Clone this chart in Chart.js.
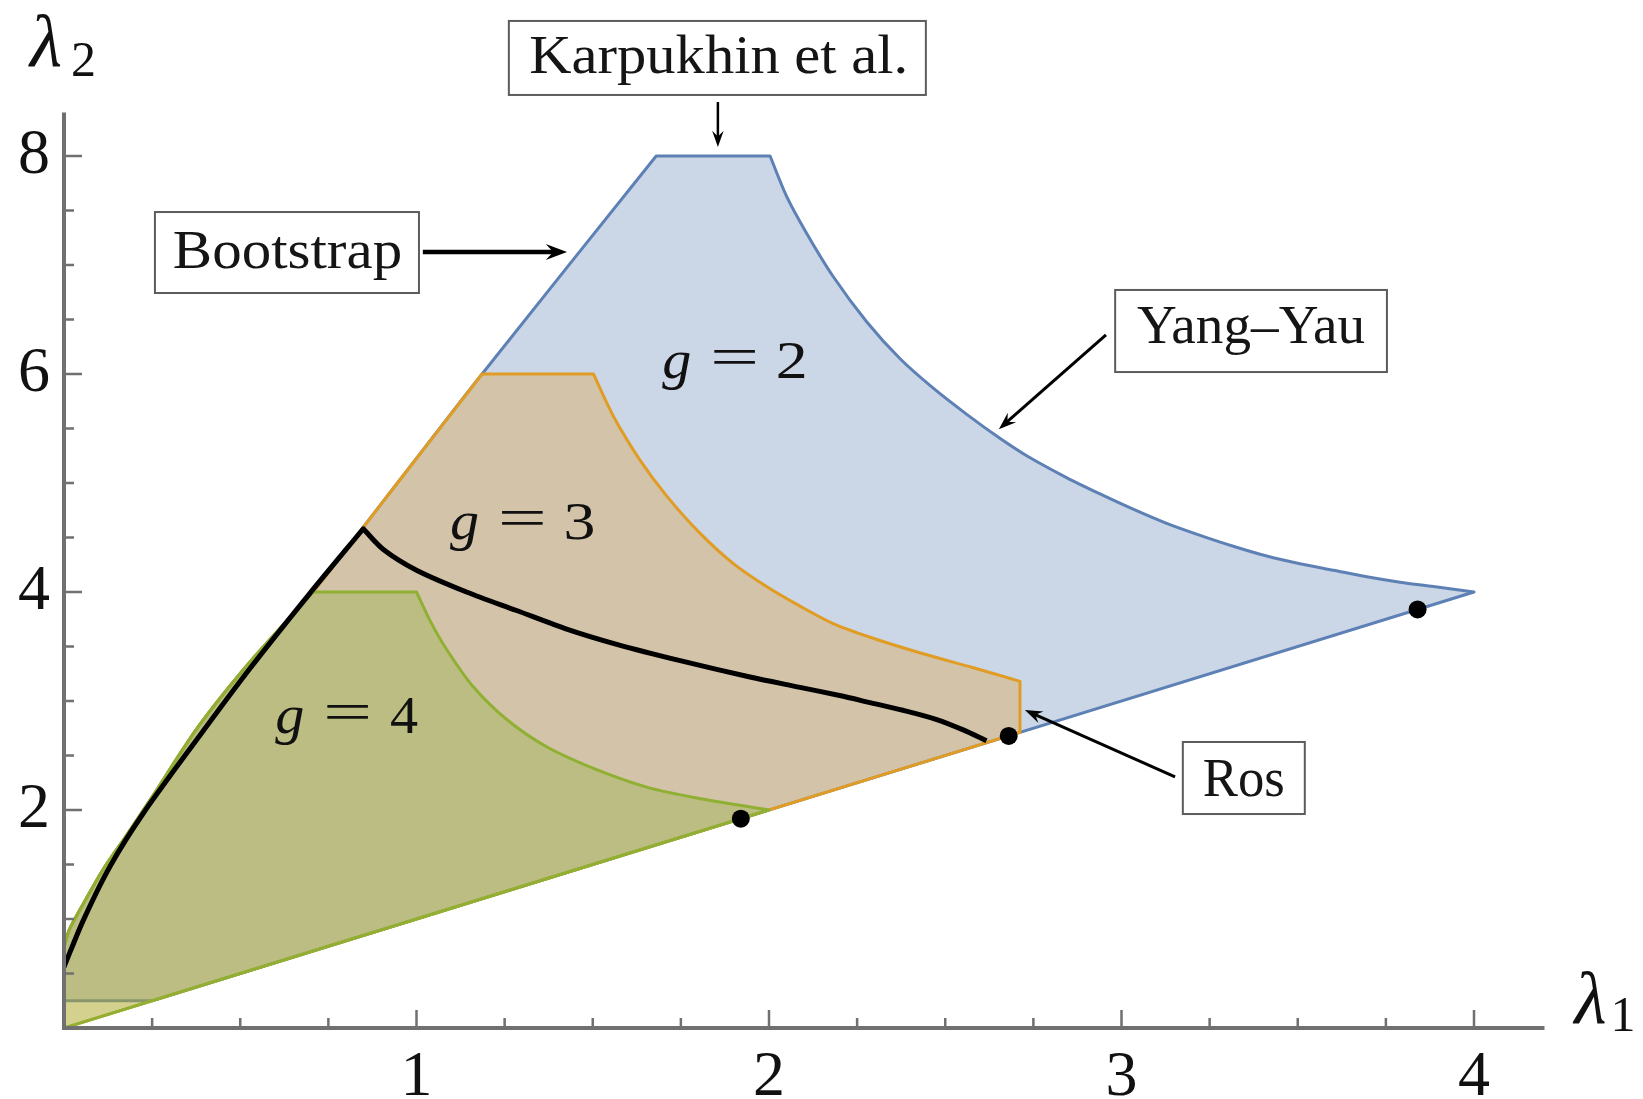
<!DOCTYPE html>
<html>
<head>
<meta charset="utf-8">
<script src="https://cdn.jsdelivr.net/npm/chart.js@4.4.1/dist/chart.umd.min.js"></script>
<style>
  html, body { margin: 0; padding: 0; background: #fff; }
  canvas { display: block; }
</style>
</head>
<body>
<canvas id="spectrumChart" width="1643" height="1099"></canvas>
<script>
// upper-left edge shared by every genus, from the λ2 axis up to the g = 2 plateau
const leftEdge = [
  [0, 0.74], [0.015, 0.9], [0.055, 1.14], [0.11, 1.45], [0.178, 1.77], [0.244, 2.09],
  [0.38, 2.76], [0.528, 3.36], [0.706, 4.0], [0.85, 4.6], [0.953, 5.03], [1.186, 6.0], [1.68, 8.0]
];
// right-hand boundaries (g = 2 is the Yang–Yau curve)
const upperG2 = [
  [2.003, 8.0], [2.05, 7.63], [2.107, 7.29], [2.183, 6.89], [2.277, 6.48], [2.372, 6.14],
  [2.466, 5.87], [2.561, 5.63], [2.655, 5.41], [2.731, 5.25], [2.844, 5.05], [2.939, 4.9],
  [3.033, 4.76], [3.128, 4.63], [3.223, 4.52], [3.317, 4.42], [3.412, 4.33], [3.506, 4.26],
  [3.601, 4.2], [3.696, 4.14], [3.79, 4.09], [3.885, 4.05], [4.0, 4.0]
];
const upperG3 = [
  [1.502, 6.0], [1.559, 5.61], [1.634, 5.21], [1.71, 4.88], [1.804, 4.54], [1.899, 4.26],
  [1.993, 4.05], [2.088, 3.87], [2.182, 3.71], [2.287, 3.585], [2.43, 3.44], [2.58, 3.305], [2.712, 3.18]
];
const upperG4 = [
  [1.0, 4.0], [1.038, 3.74], [1.086, 3.47], [1.161, 3.13], [1.256, 2.83], [1.369, 2.58],
  [1.511, 2.37], [1.653, 2.21], [1.795, 2.11], [2.0, 2.0]
];
// where each region meets the diagonal λ2 = λ1
const diagonalEnd = { g2: 4.0, g3: 2.712, g4: 2.0 };
const g2Floor = 0.25;
const plateau = { g2: 8, g3: 6, g4: 4 };

// bootstrap curve, with its kink at the top
const bootstrapRise = [
  [0, 0.56], [0.055, 0.99], [0.13, 1.48], [0.225, 1.97], [0.38, 2.66], [0.528, 3.3],
  [0.698, 3.99], [0.849, 4.58]
];
const bootstrapFall = [
  [0.849, 4.58], [0.906, 4.39], [1.0, 4.2], [1.142, 4.0], [1.284, 3.83], [1.426, 3.66],
  [1.568, 3.52], [1.748, 3.37], [1.946, 3.22], [2.088, 3.125], [2.2, 3.05], [2.287, 2.985],
  [2.38, 2.915], [2.476, 2.83], [2.551, 2.735], [2.617, 2.635]
];
const knownPoints = [[1.92, 1.92], [2.68, 2.68], [3.84, 3.84]];

const xTicks = [0.25, 0.5, 0.75, 1, 1.25, 1.5, 1.75, 2, 2.25, 2.5, 2.75, 3, 3.25, 3.5, 3.75, 4];
const yTicks = [0.5, 1, 1.5, 2, 2.5, 3, 3.5, 4, 4.5, 5, 5.5, 6, 6.5, 7, 7.5, 8];
const xTickLabels = [1, 2, 3, 4];
const yTickLabels = [2, 4, 6, 8];

const gLabels = [
  { digit: '2', x: 1.697, y: 5.963 },
  { digit: '3', x: 1.095, y: 4.486 },
  { digit: '4', x: 0.599, y: 2.706 }
];

const callouts = [
  { text: 'Karpukhin et al.', box: [1.262, 9.239, 2.445, 8.56], textWidth: 374, lift: 15,
    from: [1.855, 8.495], to: [1.855, 8.083], lw: 2.5 },
  { text: 'Bootstrap', box: [0.258, 7.486, 1.007, 6.743], textWidth: 226, lift: 15.5,
    from: [1.018, 7.119], to: [1.427, 7.119], lw: 4.5 },
  { text: 'Yang\u2013Yau', box: [2.982, 6.771, 3.753, 6.018], textWidth: 228, lift: 12,
    from: [2.956, 6.358], to: [2.652, 5.494], lw: 3 },
  { text: 'Ros', box: [3.174, 2.624, 3.52, 1.963], textWidth: 80, lift: 18,
    from: [3.152, 2.303], to: [2.726, 2.917], lw: 3 }
];

const BLUE = [94, 129, 181], ORANGE = [225, 156, 36], GREEN = [143, 176, 50];
const SERIF = '"Liberation Serif", "DejaVu Serif", serif';

const toXY = pts => pts.map(([x, y]) => ({ x, y }));
const rgb = (c, a) => a === undefined ? `rgb(${c})` : `rgba(${c},${a})`;
// a doubled point keeps the spline from rounding a corner
const corner = p => [p, p];
const inner = pts => pts.slice(1, -1);
const edgeBelow = lim => leftEdge.filter(p => p[1] <= lim).reverse();

function buildRegion(bottom, rightEdge, plateauY) {
  const left = edgeBelow(plateauY);
  const right = rightEdge.slice().reverse();
  return [
    ...bottom.flatMap(corner),
    ...corner(right[0]), ...inner(right), ...corner(right[right.length - 1]),
    ...corner(left[0]), ...inner(left), ...corner(left[left.length - 1]),
    ...corner(bottom[0])
  ];
}

const regionG2 = buildRegion([[0, g2Floor], [g2Floor, g2Floor]], upperG2, plateau.g2);
const regionG3 = buildRegion([[0, 0], [diagonalEnd.g3, diagonalEnd.g3]], upperG3, plateau.g3);
const regionG4 = buildRegion([[0, 0]], upperG4, plateau.g4);
const bootstrapCurve = [...bootstrapRise, ...bootstrapFall];

const region = (label, pts, c, order) => ({
  label, data: toXY(pts), showLine: true, fill: 'shape',
  backgroundColor: rgb(c, 0.32), borderColor: rgb(c), borderWidth: 3,
  borderJoinStyle: 'round', pointRadius: 0, tension: 0.3, order
});

function inkText(ctx, str, font, left, baseline, width) {
  ctx.font = font;
  ctx.textAlign = 'left';
  ctx.textBaseline = 'alphabetic';
  const m = ctx.measureText(str);
  const ink = m.actualBoundingBoxLeft + m.actualBoundingBoxRight;
  const sx = width ? width / ink : 1;
  ctx.save();
  ctx.translate(left, baseline);
  ctx.scale(sx, 1);
  ctx.fillText(str, m.actualBoundingBoxLeft, 0);
  ctx.restore();
}

function arrow(ctx, x1, y1, x2, y2, lw) {
  const a = Math.atan2(y2 - y1, x2 - x1);
  const len = 10 + lw * 2.5, half = 3 + lw * 1.1;
  ctx.lineWidth = lw;
  ctx.beginPath();
  ctx.moveTo(x1, y1);
  ctx.lineTo(x2 - Math.cos(a) * len * 0.6, y2 - Math.sin(a) * len * 0.6);
  ctx.stroke();
  ctx.save();
  ctx.translate(x2, y2);
  ctx.rotate(a);
  ctx.beginPath();
  ctx.moveTo(0, 0);
  ctx.lineTo(-len, -half);
  ctx.lineTo(-len * 0.65, 0);
  ctx.lineTo(-len, half);
  ctx.closePath();
  ctx.fill();
  ctx.restore();
}

const axesPlugin = {
  id: 'frameAxes',
  afterDatasetsDraw(chart) {
    const { ctx, scales: { x, y } } = chart;
    const x0 = x.getPixelForValue(0), y0 = y.getPixelForValue(0);
    ctx.save();
    ctx.strokeStyle = '#707070';
    ctx.lineWidth = 4;
    ctx.beginPath();
    ctx.moveTo(x0, y.getPixelForValue(y.max));
    ctx.lineTo(x0, y0);
    ctx.lineTo(x.getPixelForValue(x.max), y0);
    ctx.stroke();

    ctx.lineWidth = 2.5;
    ctx.beginPath();
    xTicks.forEach(v => {
      const px = x.getPixelForValue(v);
      const len = xTickLabels.includes(v) ? 18 : 10;
      ctx.moveTo(px, y0);
      ctx.lineTo(px, y0 - len);
    });
    yTicks.forEach(v => {
      const py = y.getPixelForValue(v);
      const len = yTickLabels.includes(v) ? 18 : 10;
      ctx.moveTo(x0, py);
      ctx.lineTo(x0 + len, py);
    });
    ctx.stroke();

    ctx.fillStyle = '#111';
    ctx.font = `64px ${SERIF}`;
    ctx.textBaseline = 'alphabetic';
    ctx.textAlign = 'center';
    xTickLabels.forEach(v => ctx.fillText(String(v), x.getPixelForValue(v), y0 + 67));
    ctx.textAlign = 'right';
    yTickLabels.forEach(v => ctx.fillText(String(v), x0 - 14, y.getPixelForValue(v) + 17));

    // axis names
    ctx.textAlign = 'left';
    ctx.font = `italic 74px ${SERIF}`;
    ctx.fillText('\u03bb', x0 - 34, y.getPixelForValue(y.max) - 46);
    ctx.fillText('\u03bb', x.getPixelForValue(x.max) + 30, y0 - 5);
    ctx.font = `50px ${SERIF}`;
    ctx.fillText('2', x0 + 7, y.getPixelForValue(y.max) - 36);
    ctx.fillText('1', x.getPixelForValue(x.max) + 66, y0 + 3);
    ctx.restore();
  }
};

const notesPlugin = {
  id: 'notes',
  afterDatasetsDraw(chart) {
    const { ctx, scales: { x, y } } = chart;
    ctx.save();
    ctx.fillStyle = '#111';
    gLabels.forEach(l => {
      const left = x.getPixelForValue(l.x), base = y.getPixelForValue(l.y);
      inkText(ctx, 'g', `italic 54px ${SERIF}`, left, base, 28);
      inkText(ctx, '=', `54px ${SERIF}`, left + 51, base - 3, 42);
      inkText(ctx, l.digit, `52px ${SERIF}`, left + 116, base, 27);
    });

    callouts.forEach(c => {
      const bx1 = x.getPixelForValue(c.box[0]), by1 = y.getPixelForValue(c.box[1]);
      const bx2 = x.getPixelForValue(c.box[2]), by2 = y.getPixelForValue(c.box[3]);
      ctx.fillStyle = '#fff';
      ctx.fillRect(bx1, by1, bx2 - bx1, by2 - by1);
      ctx.strokeStyle = '#5c5c5c';
      ctx.lineWidth = 2;
      ctx.strokeRect(bx1, by1, bx2 - bx1, by2 - by1);
      ctx.fillStyle = '#151515';
      const cx = (bx1 + bx2) / 2, cy = (by1 + by2) / 2;
      inkText(ctx, c.text, `54px ${SERIF}`, cx - c.textWidth / 2, cy + c.lift, c.textWidth);

      ctx.strokeStyle = '#000';
      ctx.fillStyle = '#000';
      arrow(ctx, x.getPixelForValue(c.from[0]), y.getPixelForValue(c.from[1]),
        x.getPixelForValue(c.to[0]), y.getPixelForValue(c.to[1]), c.lw);
    });
    ctx.restore();
  }
};

new Chart(document.getElementById('spectrumChart'), {
  type: 'scatter',
  data: {
    datasets: [
      region('g = 2', regionG2, BLUE, 5),
      region('g = 3', regionG3, ORANGE, 4),
      region('g = 4', regionG4, GREEN, 3),
      {
        label: 'bootstrap', data: toXY(bootstrapCurve), showLine: true, fill: false,
        borderColor: '#000', borderWidth: 5, borderJoinStyle: 'round',
        pointRadius: 0, tension: 0.3, order: 2
      },
      {
        label: 'points', data: toXY(knownPoints), showLine: false,
        pointRadius: 9, pointBackgroundColor: '#000', pointBorderWidth: 0, order: 1
      }
    ]
  },
  options: {
    responsive: false,
    animation: false,
    devicePixelRatio: 1,
    layout: { padding: { left: 64, top: 112.4, right: 98.5, bottom: 71 } },
    scales: {
      x: { type: 'linear', min: 0, max: 4.2, display: false },
      y: { type: 'linear', min: 0, max: 8.4, display: false }
    },
    plugins: { legend: { display: false }, tooltip: { enabled: false } }
  },
  plugins: [axesPlugin, notesPlugin]
});
</script>
</body>
</html>
